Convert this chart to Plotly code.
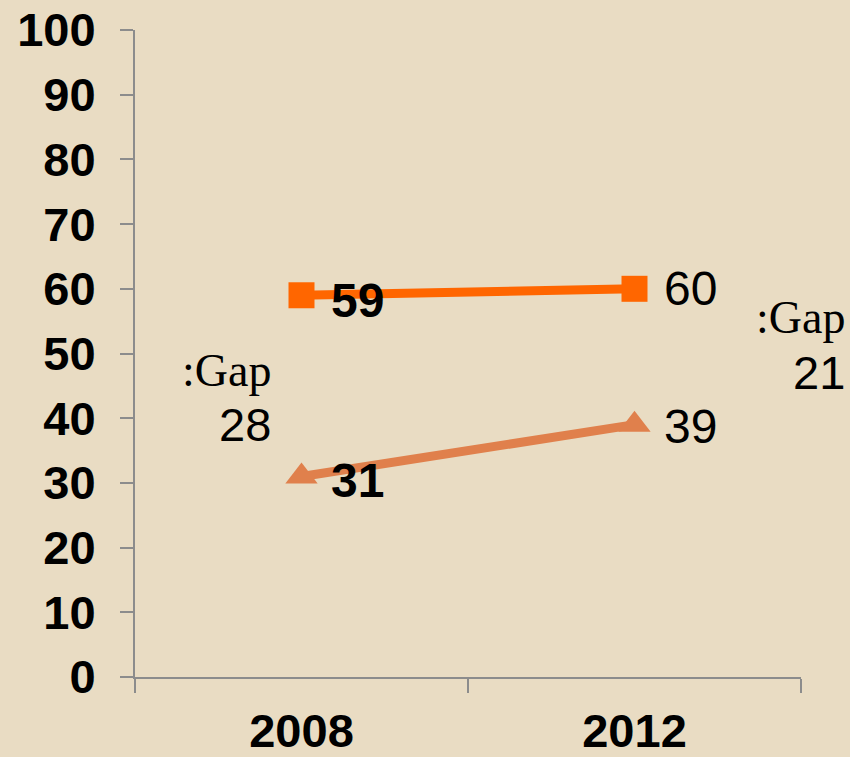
import plotly.graph_objects as go

years = ["2008", "2012"]
series_a = [59, 60]   # squares
series_b = [31, 39]   # triangles
gap_values = [28, 21]
gap_word = ":Gap"
y_ticks = [0, 10, 20, 30, 40, 50, 60, 70, 80, 90, 100]

BG = "#E9DCC3"
C_A = "#FF6600"
C_B = "#E0804C"
AX = "#8C8C8C"
FS = 47

fig = go.Figure()
fig.add_trace(go.Scatter(
    x=years, y=series_a, mode="lines+markers",
    line=dict(color=C_A, width=9),
    marker=dict(symbol="square", size=26, color=C_A),
    showlegend=False, cliponaxis=False))
fig.add_trace(go.Scatter(
    x=years, y=series_b, mode="lines+markers",
    line=dict(color=C_B, width=9),
    marker=dict(symbol="triangle-up", size=28, color=C_B),
    showlegend=False, cliponaxis=False))

annotations = []
bold = [True, False]
offs_a = [-5, 0]
offs_b = [-4, -2]
for i, yr in enumerate(years):
    for vals, offs in ((series_a, offs_a), (series_b, offs_b)):
        txt = str(vals[i])
        if bold[i]:
            txt = "<b>" + txt + "</b>"
        annotations.append(dict(
            x=i, y=vals[i], xref="x", yref="y", text=txt, showarrow=False,
            xanchor="left", yanchor="middle", xshift=27, yshift=offs[i],
            font=dict(family="Liberation Sans", size=48, color="black")))

# gap labels (paper coords of plot area)
gap_pos = [(0.207, 0.474, 0.391), (1.069, 0.555, 0.471)]
for (gx, gy1, gy2), gv in zip(gap_pos, gap_values):
    annotations.append(dict(
        x=gx, y=gy1, xref="paper", yref="paper", text=gap_word, showarrow=False,
        xanchor="right", yanchor="middle",
        font=dict(family="Liberation Serif", size=46, color="black")))
    annotations.append(dict(
        x=gx, y=gy2, xref="paper", yref="paper", text=str(gv), showarrow=False,
        xanchor="right", yanchor="middle",
        font=dict(family="Liberation Sans", size=FS, color="black")))

fig.update_layout(
    width=850, height=757,
    paper_bgcolor=BG, plot_bgcolor=BG,
    margin=dict(l=135, r=49, t=30, b=80),
    annotations=annotations,
    font=dict(family="Liberation Sans", color="black"),
)
fig.update_xaxes(
    type="category", range=[-0.5, 1.5], tickson="boundaries",
    showline=True, linecolor=AX, linewidth=2,
    ticks="outside", ticklen=14, tickcolor=AX, tickwidth=2,
    showgrid=False, zeroline=False, automargin=False,
    tickfont=dict(family="Liberation Sans", size=FS, color="black"),
    tickprefix="<b>", ticksuffix="</b>", ticklabelstandoff=12,
)
fig.update_yaxes(
    range=[0, 100], tickvals=y_ticks,
    ticktext=["<b>%d</b>" % v for v in y_ticks],
    showline=True, linecolor=AX, linewidth=2,
    ticks="outside", ticklen=13, tickcolor=AX, tickwidth=2,
    showgrid=False, zeroline=False, automargin=False,
    tickfont=dict(family="Liberation Sans", size=FS, color="black"),
    ticklabelstandoff=15,
)

fig.write_html(
    "out.html",
    config={"displayModeBar": False},
    post_script="document.body.style.margin='0';document.body.style.overflow='hidden';"
                "document.body.style.background='" + BG + "';",
)
